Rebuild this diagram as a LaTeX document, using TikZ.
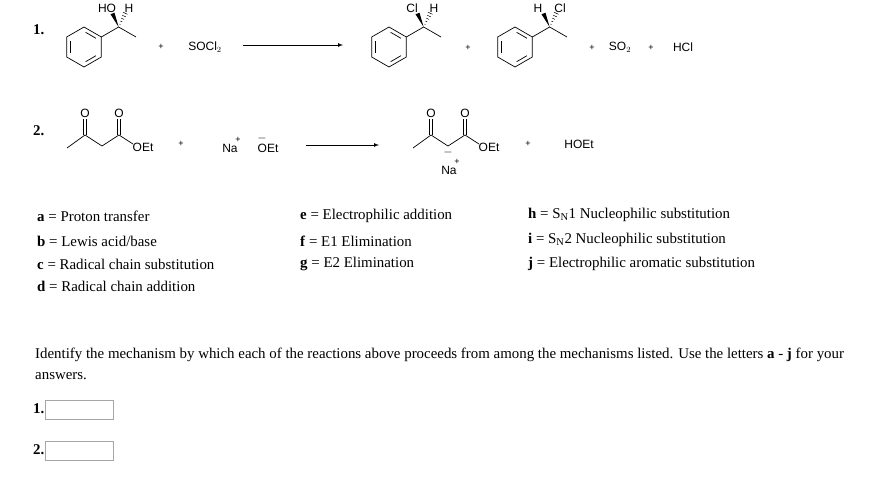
\documentclass[tikz,border=0pt]{standalone}
\usepackage{fontspec}
\setmainfont{Liberation Serif}
\newfontfamily\chemf{Liberation Sans}
\usetikzlibrary{calc}
\tikzset{
  bond/.style={line width=0.7pt},
  chem/.style={font=\chemf\fontsize{12}{13}\selectfont, inner sep=0.5pt},
  chp/.style={font=\chemf\fontsize{9}{10}\selectfont, inner sep=0.5pt},
  txt/.style={font=\fontsize{14.9}{16}\selectfont, anchor=west, inner sep=0pt},
  num/.style={font=\bfseries\fontsize{14.9}{16}\selectfont, anchor=west, inner sep=0pt},
  ansbox/.style={draw=black!35, minimum width=68pt, minimum height=19pt, inner sep=0pt, anchor=west},
  rxarrow/.style={line width=0.7pt, -latex}
}
\newcommand\phmol[4]{%
  \begin{scope}[shift={(#1,#2)}, scale=1.25]
    \draw[bond] (90:16)--(150:16)--(210:16)--(270:16)--(330:16)--(30:16)--cycle;
    \draw[bond] ($(150:12.5)!0.12!(210:12.5)$)--($(150:12.5)!0.88!(210:12.5)$);
    \draw[bond] ($(90:12.5)!0.12!(30:12.5)$)--($(90:12.5)!0.88!(30:12.5)$);
    \draw[bond] ($(270:12.5)!0.12!(330:12.5)$)--($(270:12.5)!0.88!(330:12.5)$);
    \coordinate (sc) at (27.7,-16);
    \draw[bond] (13.86,-8)--(sc)--(41.6,-8);
    \fill (sc)--(21.2,-26.2)--(24.4,-27.4)--cycle;
    \foreach \t in {0.2,0.4,0.6,0.8,1.0}
      \draw[line width=0.5pt] ($(sc)!\t!(33,-27)+(-1.8*\t,-0.85*\t)$)--($(sc)!\t!(33,-27)+(1.8*\t,0.85*\t)$);
  \end{scope}
  \node[chem] at ($(#1,#2)+(23,-39)$) {#3};
  \node[chem] at ($(#1,#2)+(45,-39)$) {#4};}
\newcommand\acac[2]{%
  \begin{scope}[shift={(#1,#2)}]
    \draw[bond] (0,0)--(18,-13)--(35,-2)--(52,-13)--(66,-4);
    \draw[bond] (16.8,-13)--(16.8,-29) (19.2,-13)--(19.2,-29);
    \draw[bond] (50.8,-13)--(50.8,-29) (53.2,-13)--(53.2,-29);
    \node[chem] at (18,-35) {O};
    \node[chem] at (52,-35) {O};
    \node[chem,anchor=west] at (65,-1) {OEt};
  \end{scope}}
\begin{document}
\begin{tikzpicture}[x=1pt,y=-1pt]
\useasboundingbox[fill=white] (0,0) rectangle (870,484);
% reaction 1
\node[num] (n1) at (33,30) {1.};
\phmol{84}{47}{HO}{H}
\node[chp] (p1) at (161,47) {+};
\node[chem] (socl) at (205,47) {SOCl$_2$};
\coordinate (a1s) at (243,45);
\coordinate (a1e) at (343,45);
\draw[rxarrow] (a1s)--(a1e);
\phmol{389}{47}{Cl}{H}
\node[chp] (p2) at (468,48) {+};
\phmol{515}{47}{H}{Cl}
\node[chp] (p3) at (592,48) {+};
\node[chem] (so2) at (620,47) {SO$_2$};
\node[chp] (p4) at (651,48) {+};
\node[chem] (hcl) at (683,47) {HCl};
% reaction 2
\node[num] (n2) at (33,131) {2.};
\acac{67}{148}
\node[chp] (p5) at (181,144) {+};
\node[chem] (na1) at (230,148) {Na};
\node[chp] at (238,140) {+};
\node[chem] (oet1) at (268,148) {OEt};
\node[chem] at (262,139) {$-$};
\coordinate (a2s) at (306,145);
\coordinate (a2e) at (379,145);
\draw[rxarrow] (a2s)--(a2e);
\acac{413}{148}
\node[chem] at (448,152) {$-$};
\node[chem] (na2) at (449,170) {Na};
\node[chp] at (457,162) {+};
\node[chp] (p6) at (528,144) {+};
\node[chem] (hoet) at (579,144) {HOEt};
% mechanism list
\node[txt] (la) at (37,216) {\textbf{a} = Proton transfer};
\node[txt] (lb) at (37,241) {\textbf{b} = Lewis acid/base};
\node[txt] (lc) at (37,264) {\textbf{c} = Radical chain substitution};
\node[txt] (ld) at (37,286) {\textbf{d} = Radical chain addition};
\node[txt] (le) at (300,216) {\textbf{e} = Electrophilic addition};
\node[txt] (lf) at (300,241) {\textbf{f} = E1 Elimination};
\node[txt] (lg) at (300,264) {\textbf{g} = E2 Elimination};
\node[txt] (lh) at (528,215) {\textbf{h} = S$_{\mathrm{N}}$1 Nucleophilic substitution};
\node[txt] (li) at (528,240) {\textbf{i} = S$_{\mathrm{N}}$2 Nucleophilic substitution};
\node[txt] (lj) at (528,264) {\textbf{j} = Electrophilic aromatic substitution};
% question
\node[txt] (q1) at (35,355) {Identify the mechanism by which each of the reactions above proceeds from among the mechanisms listed. Use the letters \textbf{a} - \textbf{j} for your};
\node[txt] (q2) at (35,376) {answers.};
\node[num] (b1l) at (33,409) {1.};
\node[ansbox] (b1) at (45,410) {};
\node[num] (b2l) at (33,450) {2.};
\node[ansbox] (b2) at (45,451) {};
\end{tikzpicture}
\end{document}
